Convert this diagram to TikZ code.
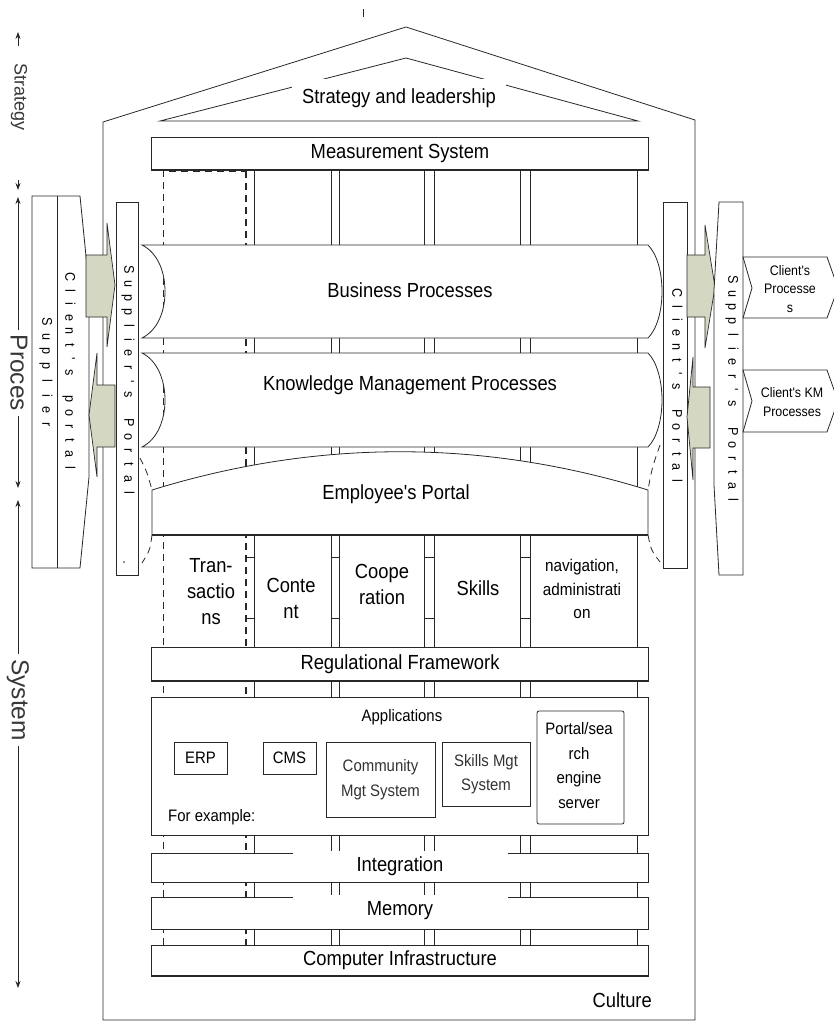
\documentclass[tikz,border=0pt]{standalone}
\usepackage{fontspec}
\setmainfont{Liberation Sans}[FakeStretch=0.9, Ligatures=TeXOff]
\newfontfamily\sidefont{Liberation Sans}[Ligatures=TeXOff]
\usetikzlibrary{arrows.meta}
\definecolor{agreen}{RGB}{212,216,194}
\definecolor{ink}{RGB}{40,40,40}
\newcommand\fmain{\fontsize{20.4}{26}\selectfont}
\newcommand\fsmall{\fontsize{16.6}{24.5}\selectfont}
\newcommand\fnav{\fontsize{17}{23.5}\selectfont}
\newcommand\ftiny{\fontsize{13.8}{18.5}\selectfont}
\newcommand\fport{\fontsize{14}{14}\selectfont}
\newcommand\fside{\sidefont\fontsize{24.5}{24.5}\selectfont}
\newcommand\fstrat{\sidefont\fontsize{18}{18}\selectfont}
\begin{document}
\begin{tikzpicture}[x=1pt,y=-1pt,
  ln/.style={draw=ink, line width=0.8pt},
  bx/.style={draw=ink, fill=white, line width=0.8pt},
  dsh/.style={draw=ink, line width=0.8pt, dash pattern=on 7pt off 5pt},
  grn/.style={draw=ink, fill=agreen, line width=0.7pt},
  lbl/.style={inner sep=0pt, text=black, font=\fmain, align=center},
  pletter/.style={rotate=-90, anchor=mid, inner sep=0pt, font=\fport, text=black},
  sidelbl/.style={rotate=-90, inner ysep=0pt, inner xsep=5pt, fill=white, text=black!78},
  sidearrow/.style={draw=ink, line width=0.8pt, -{Stealth[length=7pt,width=5pt]}},
  dblarrow/.style={draw=ink, line width=0.8pt, {Stealth[length=7pt,width=5pt]}-{Stealth[length=7pt,width=5pt]}}
]
\useasboundingbox (0,0) rectangle (834,1022);

% small tick at top
\draw[ln, line width=0.6pt] (363,9) -- (363,17);

% house outline and roof
\draw[ln] (103,1020) -- (103,122) -- (406,27) -- (695,120) -- (695,1020) -- cycle;
\draw[ln] (160,121) -- (406,58) -- (638,121) -- cycle;
\node[lbl, fill=white, inner xsep=10pt, inner ysep=9pt] (strat) at (399,98) {Strategy and leadership};

% columns
\draw[dsh] (163,945) -- (163,171) -- (246,171);
\draw[dsh, line width=1.3pt] (246,171) -- (246,945);
\foreach \xx in {254,331,339,424,434,520,530,637} \draw[ln] (\xx,171) -- (\xx,945);
\foreach \a/\b in {246/254,331/339,424/434,520/530} {
  \draw[ln] (\a,557) -- (\b,557);
  \draw[ln] (\a,618) -- (\b,618);
}

% measurement system
\draw[bx] (151,137) rectangle (648,170);
\draw[ink, line width=1.4pt] (151,170) -- (648,170);
\node[lbl] (meas) at (400,153) {Measurement System};

% business processes band
\draw[bx] (142,245) -- (648,245) .. controls (657,254) and (662,272) .. (662,291.5)
  .. controls (662,311) and (657,329) .. (648,338) -- (142,338)
  .. controls (158,330) and (165,311) .. (165,291.5)
  .. controls (165,272) and (158,253) .. (142,245) -- cycle;
\node[lbl] (bp) at (410,290) {Business Processes};

% knowledge management processes band
\draw[bx] (142,353) -- (648,353) .. controls (657,362) and (662,381) .. (662,400)
  .. controls (662,419) and (657,438) .. (648,447) -- (142,447)
  .. controls (158,439) and (165,419) .. (165,400)
  .. controls (165,381) and (158,361) .. (142,353) -- cycle;
\node[lbl] (kmp) at (410,385) {Knowledge Management Processes};

% employee's portal band
\draw[bx] (152,490) .. controls (317,439) and (483,439) .. (648,490) -- (648,535) -- (152,535) -- cycle;
\draw[ink, line width=1.8pt] (152,535) -- (648,535);
\draw[dsh] (140,458) .. controls (147,472) .. (152,490);
\draw[dsh] (152,535) .. controls (150,550) .. (142,563);
\draw[dsh] (660,445) .. controls (652,468) .. (648,490);
\draw[dsh] (648,535) .. controls (651,550) .. (660,562);
\node[lbl] (emp) at (396,494) {Employee's Portal};

% column labels
\node[lbl] (trans) at (211,592) {Tran-\\sactio\\ns};
\node[lbl] (cont) at (291,598) {Conte\\nt};
\node[lbl] (coop) at (382,584) {Coope\\ration};
\node[lbl] (skills) at (478,588) {Skills};
\node[lbl, font=\fnav] (nav) at (582,589) {navigation,\\administrati\\on};

% regulational framework
\draw[bx] (151,647) rectangle (648,681);
\draw[ink, line width=1.2pt] (151,681) -- (648,681);
\node[lbl] (reg) at (400,664) {Regulational Framework};

% applications
\draw[bx] (151,697) rectangle (648,835);
\node[lbl, font=\fsmall] (apps) at (402,717) {Applications};
\draw[bx] (174,742) rectangle (227,774);
\node[lbl, font=\fsmall] (erp) at (200.5,758) {ERP};
\draw[bx] (263,742) rectangle (316,774);
\node[lbl, font=\fsmall] (cms) at (289.5,758) {CMS};
\draw[bx] (326,742) rectangle (435,817);
\node[lbl, font=\fsmall, text=black!80] (cmgt) at (380.5,779.5) {Community\\Mgt System};
\draw[bx] (442,742) rectangle (530,806);
\node[lbl, font=\fsmall, text=black!80] (smgt) at (486,774) {Skills Mgt\\System};
\draw[bx, rounded corners=2pt] (537,711) rectangle (624,824);
\node[lbl, font=\fsmall] (pse) at (579,765.5) {Portal/sea\\rch\\engine\\server};
\node[lbl, font=\fsmall, anchor=west] (forex) at (168,817) {For example:};

% integration, memory, infrastructure
\draw[bx] (151,853) rectangle (648,882);
\node[lbl, fill=white, minimum width=215pt, minimum height=31pt] (integ) at (400,866) {Integration};
\draw[bx] (151,897) rectangle (648,929);
\node[lbl, fill=white, minimum width=215pt, minimum height=32pt] (mem) at (400,911) {Memory};
\draw[bx] (151,945) rectangle (648,976);
\draw[ink, line width=1.6pt] (151,976) -- (648,976);
\node[lbl] (comp) at (400,960) {Computer Infrastructure};

\node[lbl, anchor=east] (cult) at (652,1000) {Culture};

% left portals
\draw[bx] (32,196) -- (80,196) -- (89,286) -- (89,477) -- (80,568) -- (32,568) -- cycle;
\draw[ln] (57,196) -- (57,568);
\draw[grn] (86,255) -- (107,255) -- (107,223) -- (115,285) -- (107,347) -- (107,317) -- (86,317) -- cycle;
\draw[grn] (115,385) -- (97,385) -- (97,353) -- (89,415) -- (97,477) -- (97,447) -- (115,447) -- cycle;
\draw[bx] (116,202) rectangle (138,575);
\fill[ink] (124,562) circle (0.9pt);

\foreach \c [count=\i from 0] in {S,u,p,p,l,i,e,r,',s,{},P,o,r,t,a,l}
  \node[pletter] (lsp\i) at (127,270+\i*13.9) {\c};
\foreach \c [count=\i from 0] in {C,l,i,e,n,t,',s,{},p,o,r,t,a,l}
  \node[pletter] (lcp\i) at (68,277+\i*13.6) {\c};
\foreach \c [count=\i from 0] in {S,u,p,p,l,i,e,r}
  \node[pletter] (lsu\i) at (45,322+\i*14.7) {\c};

% right portals
\draw[bx] (663,202) rectangle (687,568);
\draw[grn] (687,255) -- (705,255) -- (705,225) -- (715,287) -- (705,348) -- (705,317) -- (687,317) -- cycle;
\draw[grn] (710,387) -- (693,387) -- (693,357) -- (687,417) -- (693,480) -- (693,448) -- (710,448) -- cycle;
\draw[bx] (719,202) -- (743,202) -- (743,575) -- (719,575) -- (714,485) -- (714,290) -- cycle;

\foreach \c [count=\i from 0] in {C,l,i,e,n,t,',s,{},P,o,r,t,a,l}
  \node[pletter] (rcp\i) at (675,293+\i*13.4) {\c};
\foreach \c [count=\i from 0] in {S,u,p,p,l,i,e,r,',s,{},P,o,r,t,a,l}
  \node[pletter] (rsp\i) at (731,280+\i*13.75) {\c};

% client's processes
\draw[bx] (743,257) -- (827,257) -- (838,288) -- (827,318) -- (743,318) -- (752,288) -- cycle;
\node[lbl, font=\ftiny] (cproc) at (790,289) {Client's\\Processe\\s};
\draw[bx] (743,370) -- (827,370) -- (838,401) -- (827,432) -- (743,432) -- (752,401) -- cycle;
\node[lbl, font=\ftiny] (ckm) at (792,402) {Client's KM\\Processes};

% left axis
\draw[sidearrow] (18,46) -- (18,32);
\node[sidelbl, font=\fstrat] (strlbl) at (19,97) {Strategy};
\draw[sidearrow] (18,180) -- (18,190);
\draw[dblarrow] (18,197) -- (18,488);
\node[sidelbl, font=\fside] (proclbl) at (19,373) {Proces};
\draw[dblarrow] (18,500) -- (18,988);
\node[sidelbl, font=\fside] (syslbl) at (18,700) {System};
\end{tikzpicture}
\end{document}
